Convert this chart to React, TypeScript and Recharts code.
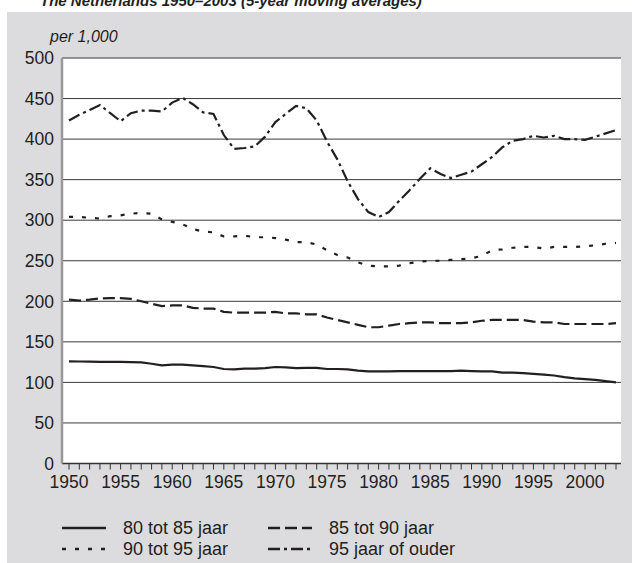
import {
  LineChart,
  Line,
  XAxis,
  YAxis,
  CartesianGrid,
  Legend
} from 'recharts'

const years = [
  1950, 1951, 1952, 1953, 1954, 1955, 1956, 1957, 1958, 1959,
  1960, 1961, 1962, 1963, 1964, 1965, 1966, 1967, 1968, 1969,
  1970, 1971, 1972, 1973, 1974, 1975, 1976, 1977, 1978, 1979,
  1980, 1981, 1982, 1983, 1984, 1985, 1986, 1987, 1988, 1989,
  1990, 1991, 1992, 1993, 1994, 1995, 1996, 1997, 1998, 1999,
  2000, 2001, 2002, 2003
]

const age80to85 = [
  126, 125.8, 125.5, 125.3, 125.3, 125.3, 125, 124.8, 123, 121,
  122, 122, 121, 120, 119, 116.5, 116, 117, 117, 117.5,
  119, 118.5, 117.5, 118, 118, 116.5, 116.5, 116, 114.5, 113.5,
  113.5, 113.5, 114, 114, 114, 114, 114, 114, 114.5, 114,
  113.5, 113.5, 112, 112, 111.5, 110.5, 109.5, 108.5, 106.5, 105,
  104, 103, 101.5, 100
]

const age85to90 = [
  202, 201, 202, 203.5, 204, 204, 203, 200, 197, 194,
  195, 195, 192, 191, 191, 187, 186, 186, 186, 186,
  187, 185, 185, 184, 184, 180, 177, 174, 171, 168,
  168, 170, 172, 173, 174, 174, 173, 173, 173, 174,
  176, 177, 177, 177, 177, 175, 174, 174, 172, 172,
  172, 172, 172, 173
]

const age90to95 = [
  304, 304, 303, 302, 305, 306, 308, 309, 308, 301,
  298, 295, 289, 286, 285, 280, 280, 281, 279, 279,
  278, 276, 273, 273, 270, 263, 257, 254, 248, 244,
  243, 243, 244, 247, 249, 250, 250, 251, 252, 253,
  256, 263, 264, 266, 267, 267, 265, 267, 267, 267,
  268, 269, 271, 272
]

const age95plus = [
  423, 430, 436, 442, 432, 422, 432, 435, 435, 434,
  445, 451, 443, 433, 431, 405, 388, 389, 391, 403,
  421, 431, 441, 438, 423, 397, 375, 348, 326, 310,
  304, 310, 324, 337, 351, 364, 357, 352, 356, 360,
  369, 378, 390, 398, 400, 404, 402, 404, 400, 400,
  399, 403, 407, 411
]

const yTicks = [0, 50, 100, 150, 200, 250, 300, 350, 400, 450, 500]

const rows = years.map((year, i) => ({
  year,
  a: age80to85[i],
  b: age85to90[i],
  c: age90to95[i],
  d: age95plus[i]
}))

const ink = '#231f20'

const series = [
  { key: 'a', name: '80 tot 85 jaar', dash: undefined },
  { key: 'b', name: '85 tot 90 jaar', dash: '12 5' },
  { key: 'c', name: '90 tot 95 jaar', dash: '4 9' },
  { key: 'd', name: '95 jaar of ouder', dash: '12 4 3 4' }
]

const LegendBox = () => (
  <div style={{ display: 'grid', gridTemplateColumns: '206px 220px' }}>
    {series.map((s) => (
      <div key={s.key} style={{ display: 'flex', alignItems: 'center', height: 21 }}>
        <svg width={44} height={6}>
          <line x1={0} y1={3} x2={44} y2={3} stroke={ink} strokeWidth={2.5} strokeDasharray={s.dash} />
        </svg>
        <span style={{ marginLeft: 17, fontSize: 18, color: ink, whiteSpace: 'nowrap' }}>{s.name}</span>
      </div>
    ))}
  </div>
)

export default function App() {
  return (
    <div
      style={{
        position: 'absolute',
        left: 0,
        top: 0,
        width: 632,
        height: 563,
        overflow: 'hidden',
        background: '#fff',
        fontFamily: '"Liberation Sans", Arial, sans-serif',
        color: ink
      }}
    >
      {/* title sits mostly above the frame, as in the source */}
      <div
        style={{
          position: 'absolute',
          left: 40,
          top: -8,
          fontSize: 15,
          lineHeight: '17px',
          fontWeight: 'bold',
          fontStyle: 'italic',
          whiteSpace: 'nowrap'
        }}
      >
        The Netherlands 1950–2003 (5-year moving averages)
      </div>
      <div style={{ position: 'absolute', left: 7, top: 12, right: 0, bottom: 0, background: '#dcdcde' }} />
      <div style={{ position: 'absolute', left: 50, top: 28, fontSize: 16, lineHeight: '18px', fontStyle: 'italic' }}>
        per 1,000
      </div>
      <div style={{ position: 'absolute', left: 0, top: 0 }}>
        <LineChart width={632} height={563} data={rows} margin={{ top: 58, right: 11, left: 12, bottom: 69.5 }}>
          <CartesianGrid vertical={false} stroke="#3a3a3a" fill="#fff" fillOpacity={1} />
          <XAxis
            dataKey="year"
            type="number"
            domain={[1950, 2003]}
            padding={{ left: 7, right: 5 }}
            ticks={years}
            interval={0}
            tickFormatter={(v) => (v % 5 === 0 ? String(v) : '')}
            tickSize={6}
            tickMargin={6}
            height={30}
            axisLine={{ stroke: '#333', strokeWidth: 1.5 }}
            tickLine={{ stroke: '#333' }}
            tick={{ fill: ink, fontSize: 17.5 }}
          />
          <YAxis
            domain={[0, 500]}
            ticks={yTicks}
            interval={0}
            width={50}
            tickLine={false}
            axisLine={{ stroke: '#999', strokeWidth: 2.5 }}
            tick={{ fill: ink, fontSize: 17.5 }}
          />
          <YAxis
            yAxisId="right"
            orientation="right"
            domain={[0, 500]}
            width={0}
            tick={false}
            tickLine={false}
            axisLine={{ stroke: '#333', strokeWidth: 1.5 }}
          />
          <Legend
            layout="horizontal"
            verticalAlign="middle"
            align="center"
            content={<LegendBox />}
            wrapperStyle={{ left: 62, top: 517.5, width: 440 }}
          />
          {series.map((s) => (
            <Line
              key={s.key}
              type="linear"
              dataKey={s.key}
              name={s.name}
              stroke={ink}
              strokeWidth={2.2}
              strokeDasharray={s.dash}
              dot={false}
              activeDot={false}
              isAnimationActive={false}
            />
          ))}
        </LineChart>
      </div>
    </div>
  )
}
